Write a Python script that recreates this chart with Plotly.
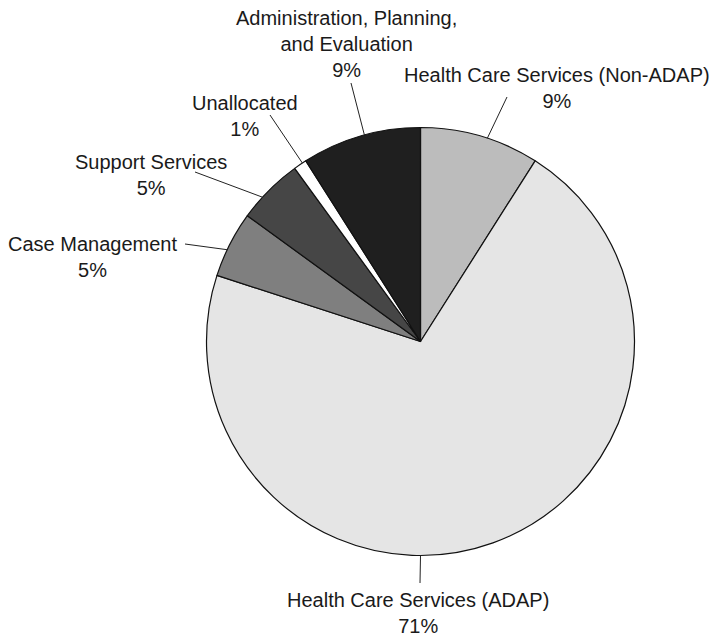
import math
import plotly.graph_objects as go

# Budget shares, listed clockwise from 12 o'clock
categories = [
    "Health Care Services (Non-ADAP)",
    "Health Care Services (ADAP)",
    "Case Management",
    "Support Services",
    "Unallocated",
    "Administration, Planning, and Evaluation",
]
shares = [9, 71, 5, 5, 1, 9]
label_text = [
    "Health Care Services (Non-ADAP)",
    "Health Care Services (ADAP)",
    "Case Management",
    "Support Services",
    "Unallocated",
    "Administration, Planning,<br>and Evaluation",
]
slice_colors = ["#bcbcbc", "#e5e5e5", "#7f7f7f", "#464646", "#ffffff", "#1f1f1f"]

# Page geometry (pixels)
W, H = 711, 635
cx, cy, R = 420.5, 341.5, 214.0

# Label block centres, outer end of each leader line (pixels) and the
# angle (degrees clockwise from the top) where the leader meets the rim
label_pos = [(557, 88), (418, 613), (92, 257), (151, 175), (245, 116), (346, 44)]
leader_end = [(507, 97), (420, 583), (185, 244), (195, 172), (270, 115), (351, 83)]
rim_angle = [18.2, 180.0, 295.4, 312.4, 326.5, 344.8]


def px(x):
    return x / W


def py(y):
    return 1 - y / H


fig = go.Figure(
    go.Pie(
        labels=categories,
        values=shares,
        sort=False,
        direction="clockwise",
        rotation=0,
        marker=dict(colors=slice_colors, line=dict(color="#111111", width=1.2)),
        textinfo="none",
        hoverinfo="label+percent",
        showlegend=False,
        domain=dict(x=[px(cx - R), px(cx + R)], y=[py(cy + R), py(cy - R)]),
    )
)

annotations = []
shapes = []
for val, txt, (lx, ly), (ex, ey), ang in zip(
    shares, label_text, label_pos, leader_end, rim_angle
):
    a = math.radians(ang)
    rx = cx + R * math.sin(a)
    ry = cy - R * math.cos(a)
    shapes.append(
        dict(
            type="line", xref="paper", yref="paper",
            x0=px(rx), y0=py(ry), x1=px(ex), y1=py(ey),
            line=dict(color="#222222", width=1),
        )
    )
    annotations.append(
        dict(
            x=px(lx), y=py(ly), xref="paper", yref="paper",
            xanchor="center", yanchor="middle", showarrow=False,
            text=f"{txt}<br>{val}%", align="center",
            font=dict(family="Liberation Sans, Arial, sans-serif", size=20, color="#1a1a1a"),
        )
    )

fig.update_layout(
    width=W, height=H,
    margin=dict(l=0, r=0, t=0, b=0),
    paper_bgcolor="white", plot_bgcolor="white",
    annotations=annotations, shapes=shapes,
)

fig.write_html("out.html")
